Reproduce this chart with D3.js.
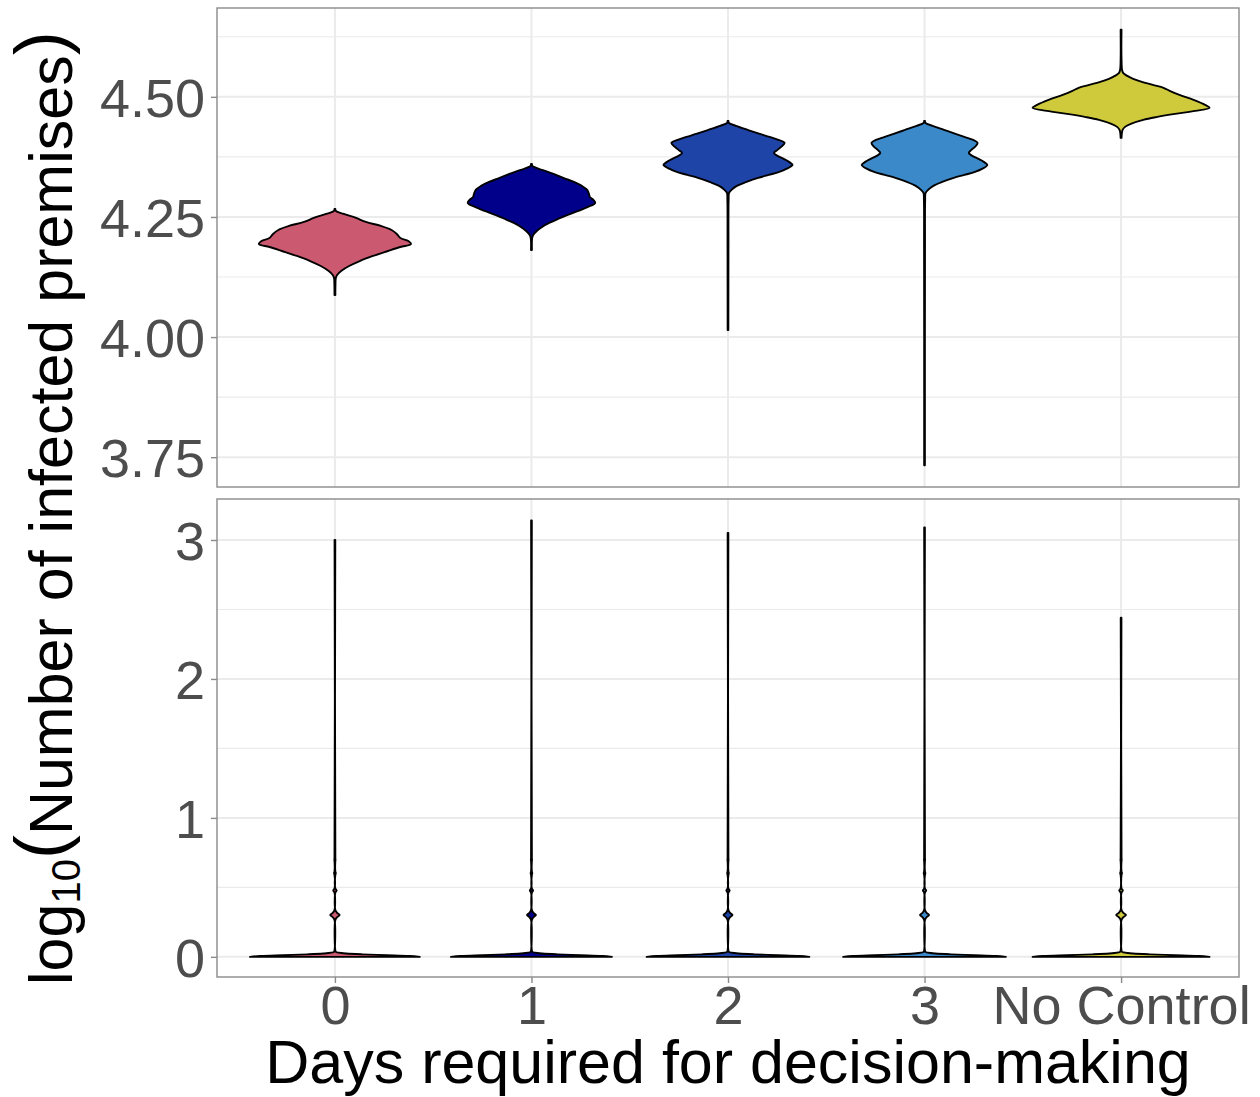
<!DOCTYPE html>
<html>
<head>
<meta charset="utf-8">
<script src="https://cdn.jsdelivr.net/npm/d3@7"></script>
<style>
  body { margin: 0; background: #fff; }
  svg { display: block; font-family: "Liberation Sans", Arial, sans-serif; }
</style>
</head>
<body>
<svg id="chart" width="1260" height="1097"></svg>
<script>
// ---- data -------------------------------------------------------------
const categories = ["0", "1", "2", "3", "No Control"];
const fillColors = ["#CB5A70", "#00008B", "#1F44A8", "#3B89C9", "#CFCA3C"];

// Upper panel (large outbreaks): [log10 infected premises, relative violin width]
const upperDay0 = [
  [4.0875, 0.005], [4.1083, 0.006], [4.1229, 0.010], [4.1292, 0.025], [4.1375, 0.07],
  [4.1479, 0.16], [4.1583, 0.28], [4.1688, 0.43], [4.1792, 0.60], [4.1875, 0.74],
  [4.1938, 0.86], [4.2000, 0.83], [4.2063, 0.74], [4.2146, 0.70], [4.2229, 0.64],
  [4.2313, 0.52], [4.2396, 0.35], [4.2479, 0.24], [4.2563, 0.10], [4.2625, 0.010],
  [4.2667, 0.005]
];
const upperDay1 = [
  [4.1813, 0.005], [4.2063, 0.008], [4.2125, 0.02], [4.2208, 0.06], [4.2292, 0.12],
  [4.2375, 0.20], [4.2458, 0.30], [4.2542, 0.41], [4.2625, 0.53], [4.2708, 0.64],
  [4.2792, 0.72], [4.2854, 0.70], [4.2917, 0.66], [4.2979, 0.65], [4.3063, 0.63],
  [4.3146, 0.57], [4.3229, 0.48], [4.3313, 0.36], [4.3396, 0.25], [4.3479, 0.12],
  [4.3563, 0.010], [4.3604, 0.005]
];
const upperDay2 = [
  [4.0146, 0.004], [4.1813, 0.005], [4.2854, 0.007], [4.3000, 0.012], [4.3063, 0.04],
  [4.3146, 0.10], [4.3229, 0.21], [4.3313, 0.34], [4.3375, 0.46], [4.3438, 0.58],
  [4.3500, 0.66], [4.3583, 0.73], [4.3646, 0.69], [4.3708, 0.63], [4.3771, 0.56],
  [4.3833, 0.52], [4.3896, 0.56], [4.3958, 0.60], [4.4042, 0.64], [4.4104, 0.57],
  [4.4167, 0.47], [4.4229, 0.36], [4.4313, 0.22], [4.4396, 0.09], [4.4458, 0.010],
  [4.4500, 0.005]
];
const upperDay3 = [
  [3.7333, 0.004], [4.0000, 0.004], [4.1813, 0.005], [4.2854, 0.007], [4.3000, 0.012],
  [4.3063, 0.04], [4.3146, 0.10], [4.3229, 0.20], [4.3313, 0.33], [4.3375, 0.45],
  [4.3438, 0.57], [4.3500, 0.65], [4.3583, 0.71], [4.3646, 0.67], [4.3708, 0.61],
  [4.3771, 0.54], [4.3833, 0.50], [4.3896, 0.53], [4.3958, 0.57], [4.4042, 0.60],
  [4.4104, 0.55], [4.4167, 0.45], [4.4229, 0.35], [4.4313, 0.22], [4.4396, 0.09],
  [4.4458, 0.010], [4.4500, 0.005]
];
const upperNoControl = [
  [4.4146, 0.005], [4.4313, 0.017], [4.4375, 0.045], [4.4438, 0.11], [4.4521, 0.25],
  [4.4583, 0.41], [4.4646, 0.61], [4.4708, 0.84], [4.4771, 1.00], [4.4833, 0.95],
  [4.4938, 0.82], [4.5042, 0.66], [4.5125, 0.55], [4.5188, 0.48], [4.5250, 0.36],
  [4.5333, 0.20], [4.5417, 0.09], [4.5500, 0.023], [4.5563, 0.011], [4.5771, 0.005],
  [4.6396, 0.005]
];
const upperProfiles = [upperDay0, upperDay1, upperDay2, upperDay3, upperNoControl];

// Lower panel (small outbreaks): shared profile of the discrete counts 1, 2, 3, ...
const lowerProfile = [
  [0.000, 1.00], [0.006, 0.88], [0.012, 0.61], [0.018, 0.32], [0.024, 0.135],
  [0.030, 0.044], [0.036, 0.011], [0.045, 0.005], [0.265, 0.005], [0.285, 0.025],
  [0.301, 0.055], [0.317, 0.025], [0.337, 0.005], [0.462, 0.005], [0.477, 0.02],
  [0.492, 0.005], [0.590, 0.005], [0.602, 0.010], [0.614, 0.005], [0.690, 0.005],
  [0.699, 0.007], [0.708, 0.005]
];
const lowerWidth = [0.96, 0.91, 0.92, 0.92, 1.00];
const lowerTailTop = [3.00, 3.14, 3.05, 3.09, 2.44];

const upperTicks = [3.75, 4.00, 4.25, 4.50];
const upperTickLabels = ["3.75", "4.00", "4.25", "4.50"];
const upperMinor = [3.875, 4.125, 4.375, 4.625];
const lowerTicks = [0, 1, 2, 3];
const lowerTickLabels = ["0", "1", "2", "3"];
const lowerMinor = [0.5, 1.5, 2.5];

// ---- layout -----------------------------------------------------------
const svg = d3.select("#chart");
const W = 1260, H = 1097;
const left = 217, right = 1239;
const upperBox = { top: 8, bottom: 487 };
const lowerBox = { top: 499, bottom: 977 };
const gridColor = "#EBEBEB";
const textColor = "#4D4D4D";

svg.append("rect").attr("width", W).attr("height", H).attr("fill", "#fff");

const x = d3.scalePoint().domain(categories).range([left, right]).padding(0.6);
const maxHalf = 0.45 * x.step();

// 5% expansion of each panel's data range
function expanded(lo, hi, frac) {
  const pad = (hi - lo) * frac;
  return [lo - pad, hi + pad];
}
const upperVals = upperProfiles.flat().map(d => d[0]);
const yUpper = d3.scaleLinear()
  .domain(expanded(d3.min(upperVals), d3.max(upperVals), 0.05))
  .range([upperBox.bottom, upperBox.top]);
const yLower = d3.scaleLinear()
  .domain([-0.145, 3.295])
  .range([lowerBox.bottom, lowerBox.top]);

function drawPanel(box, y, majors, minors, labels, profiles, id) {
  const g = svg.append("g");
  // grid
  g.selectAll(".minor").data(minors).join("line")
    .attr("x1", left).attr("x2", right)
    .attr("y1", d => y(d)).attr("y2", d => y(d))
    .attr("stroke", gridColor).attr("stroke-width", 1.1);
  g.selectAll(".major").data(majors).join("line")
    .attr("x1", left).attr("x2", right)
    .attr("y1", d => y(d)).attr("y2", d => y(d))
    .attr("stroke", gridColor).attr("stroke-width", 2);
  g.selectAll(".vgrid").data(categories).join("line")
    .attr("x1", d => x(d)).attr("x2", d => x(d))
    .attr("y1", box.top).attr("y2", box.bottom)
    .attr("stroke", gridColor).attr("stroke-width", 2);

  // violins
  svg.append("clipPath").attr("id", id)
    .append("rect").attr("x", left).attr("y", box.top)
    .attr("width", right - left).attr("height", box.bottom - box.top);
  const vg = g.append("g").attr("clip-path", `url(#${id})`);
  profiles.forEach((prof, i) => {
    const cx = x(categories[i]);
    const area = d3.area()
      .curve(d3.curveCatmullRom.alpha(0.5))
      .y(d => y(d[0]))
      .x0(d => cx - Math.max(d[1], 0.003) * maxHalf)
      .x1(d => cx + Math.max(d[1], 0.003) * maxHalf);
    vg.append("path")
      .attr("d", area(prof))
      .attr("fill", fillColors[i])
      .attr("stroke", "#000")
      .attr("stroke-width", 1.9)
      .attr("stroke-linejoin", "round");
  });

  // border
  g.append("rect")
    .attr("x", left).attr("y", box.top)
    .attr("width", right - left).attr("height", box.bottom - box.top)
    .attr("fill", "none").attr("stroke", "#8A8A8A").attr("stroke-width", 1.4);

  // y axis
  const ax = g.append("g").attr("transform", `translate(${left},0)`)
    .call(d3.axisLeft(y).tickValues(majors).tickSize(6).tickPadding(6)
      .tickFormat((d, k) => labels[k]));
  ax.select(".domain").remove();
  ax.selectAll(".tick line").attr("stroke", "#8A8A8A").attr("stroke-width", 1.4);
  ax.selectAll(".tick text").attr("fill", textColor)
    .style("font-size", "54px").attr("dy", "0.36em");
  return g;
}

drawPanel(upperBox, yUpper, upperTicks, upperMinor, upperTickLabels, upperProfiles, "clipUpper");

const lowerProfiles = categories.map((c, i) =>
  lowerProfile.map(d => [d[0], d[1] * lowerWidth[i]]).concat([[lowerTailTop[i], 0.004]])
);
drawPanel(lowerBox, yLower, lowerTicks, lowerMinor, lowerTickLabels, lowerProfiles, "clipLower");

// x axis
const xa = svg.append("g").attr("transform", `translate(0,${lowerBox.bottom})`)
  .call(d3.axisBottom(x).tickSize(6).tickPadding(3));
xa.select(".domain").remove();
xa.selectAll(".tick line").attr("stroke", "#8A8A8A").attr("stroke-width", 1.4);
xa.selectAll(".tick text").attr("fill", textColor).style("font-size", "54px").attr("dy", "0.7em");

// axis titles
svg.append("text")
  .attr("x", (left + right) / 2).attr("y", 1083)
  .attr("text-anchor", "middle").attr("fill", "#000")
  .style("font-size", "61px")
  .text("Days required for decision-making");

const yt = svg.append("text")
  .attr("transform", "translate(72,985) rotate(-90)")
  .attr("text-anchor", "start").attr("fill", "#000")
  .style("font-size", "61px");
yt.append("tspan").text("log");
yt.append("tspan").attr("dy", 8).style("font-size", "40px").text("10");
yt.append("tspan").attr("dy", -15).style("font-size", "72px").text("(");
yt.append("tspan").attr("dy", 7).text("Number of infected premises");
yt.append("tspan").attr("dy", -7).style("font-size", "72px").text(")");
</script>
</body>
</html>
